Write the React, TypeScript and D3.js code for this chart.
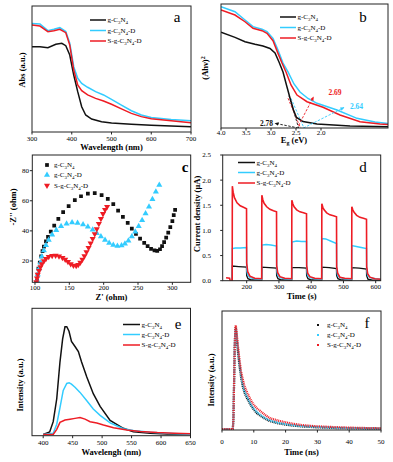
import React from 'react';
import * as d3 from 'd3';

const BLACK = '#111111';
const CYAN = '#33ccff';
const RED = '#ee1c24';
const COLORS = [BLACK, CYAN, RED];
const FONT = 'Liberation Serif, Times New Roman, serif';

// sample names, "_" marks a subscript digit
const samples = ['g-C_3N_4', 'g-C_3N_4-D', 'S-g-C_3N_4-D'];

// (a) UV-vis absorption, [nm, a.u.]
const absBlack = [[300, 0.677], [320, 0.677], [340, 0.669], [360, 0.696], [375, 0.704], [385, 0.685], [395, 0.611], [405, 0.452], [415, 0.32], [425, 0.2], [435, 0.135], [450, 0.103], [475, 0.082], [500, 0.071], [550, 0.061], [600, 0.053], [650, 0.048], [700, 0.042]];
const absCyan = [[300, 0.862], [320, 0.857], [340, 0.804], [355, 0.815], [370, 0.828], [385, 0.797], [395, 0.704], [405, 0.518], [415, 0.426], [425, 0.386], [440, 0.355], [460, 0.32], [480, 0.294], [500, 0.259], [525, 0.214], [550, 0.169], [575, 0.135], [600, 0.116], [650, 0.1], [700, 0.09]];
const absRed = [[300, 0.849], [320, 0.841], [340, 0.796], [355, 0.804], [370, 0.815], [385, 0.788], [395, 0.69], [405, 0.492], [415, 0.373], [425, 0.328], [440, 0.294], [460, 0.267], [480, 0.246], [500, 0.22], [525, 0.183], [550, 0.148], [575, 0.122], [600, 0.106], [650, 0.09], [700, 0.074]];
const absTicks = [300, 400, 500, 600, 700];

// (b) Tauc plot, [eV, a.u.]
const taucBlack = [[4.0, 0.772], [3.72, 0.731], [3.52, 0.696], [3.32, 0.675], [3.16, 0.661], [3.02, 0.641], [2.92, 0.605], [2.84, 0.532], [2.76, 0.452], [2.68, 0.331], [2.62, 0.242], [2.55, 0.145], [2.49, 0.085], [2.36, 0.052], [2.08, 0.032], [1.42, 0.016], [0.66, 0.01]];
const taucCyan = [[4.0, 0.978], [3.72, 0.938], [3.52, 0.871], [3.36, 0.817], [3.18, 0.796], [3.08, 0.777], [2.96, 0.723], [2.86, 0.629], [2.76, 0.524], [2.66, 0.452], [2.54, 0.355], [2.42, 0.29], [2.26, 0.238], [2.08, 0.199], [1.68, 0.145], [1.28, 0.078], [0.92, 0.048], [0.66, 0.036]];
const taucRed = [[4.0, 0.952], [3.72, 0.911], [3.52, 0.857], [3.36, 0.804], [3.18, 0.785], [3.08, 0.764], [2.96, 0.704], [2.86, 0.602], [2.78, 0.524], [2.7, 0.452], [2.6, 0.347], [2.48, 0.266], [2.28, 0.212], [1.96, 0.167], [1.62, 0.105], [1.22, 0.051], [0.82, 0.032], [0.66, 0.028]];
const taucTicks = [4.0, 3.5, 3.0, 2.5, 2.0];
// band gap annotations: g-C3N4, S-g-C3N4-D, g-C3N4-D
const gapLabels = ['2.78', '2.69', '2.64'];
const gapLabelPos = [[3.09, 0.02], [1.72, 0.266], [1.29, 0.153]];
const tangents = [[[2.64, 0.26], [2.44, -0.01]], [[2.66, 0.24], [2.4, -0.01]], [[2.6, 0.24], [2.33, -0.01]]];
const arrows = [[[2.45, 0.0], [2.92, 0.038]], [[2.45, 0.02], [2.15, 0.25]], [[2.35, 0.0], [1.54, 0.165]]];

// (c) Nyquist plots, [Z', -Z'']
const eisBlack = [[103, 7], [104, 11], [105, 15], [107, 19], [109, 23], [111, 26.5], [113, 29.5], [116, 33], [119, 36], [123, 39.5], [128, 43.5], [134, 48], [141, 52.5], [149, 56.5], [158, 60.5], [167, 63], [177, 64.8], [187, 65], [197, 63.8], [206, 61.3], [214, 57.8], [221, 53.5], [228, 49.3], [235, 45.3], [241, 41.5], [247, 38], [253, 34.8], [259, 32], [264, 29.8], [269, 28], [274, 27], [278, 26.8], [282, 27.8], [285, 29.8], [288, 32.5], [291, 35.5], [294, 38.8], [297, 42.5], [300, 46.5], [302, 50.5], [304, 54]];
const eisCyan = [[103, 7], [104, 11], [106, 15], [108, 19], [110, 23], [113, 27], [116, 30.5], [120, 34], [125, 37.5], [131, 40.5], [138, 43], [146, 44.8], [154, 45.5], [162, 45.3], [170, 44.3], [177, 42.8], [184, 40.8], [190, 38.5], [196, 36.2], [202, 34], [208, 32], [214, 30.6], [220, 30], [226, 30.3], [231, 31.5], [236, 33.5], [241, 36.3], [246, 39.5], [251, 43], [256, 47], [261, 51.5], [266, 56], [271, 61], [276, 66], [281, 70.5]];
const eisRed = [[102, 6], [103, 8.5], [104, 11], [106, 13.5], [108, 16], [110, 18], [113, 20], [116, 21.5], [120, 22.8], [125, 23.5], [130, 23.6], [135, 23.2], [140, 22.2], [144, 21], [148, 19.5], [152, 18], [156, 17], [160, 16.8], [163, 17.5], [166, 19], [169, 21], [172, 23.3], [175, 26], [178, 28.8], [181, 31.8], [184, 34.8], [187, 38], [190, 41.3], [193, 44.7], [196, 48], [199, 51.3], [202, 54], [205, 56]];
const eisXTicks = [100, 150, 200, 250, 300];
const eisYTicks = [20, 40, 60, 80];

// (d) transient photocurrent, [s, uA]
const ipBlack = [[155, 0.01], [155.5, 0.29], [175, 0.28], [199.5, 0.27], [200, 0.1], [204, 0.04], [212, 0.02], [246.5, 0.01], [247, 0.27], [270, 0.26], [292.5, 0.25], [293, 0.1], [297, 0.04], [305, 0.02], [339.5, 0.01], [340, 0.26], [362, 0.26], [385.5, 0.25], [386, 0.1], [390, 0.04], [398, 0.02], [432.5, 0.01], [433, 0.27], [456, 0.26], [478.5, 0.24], [479, 0.1], [483, 0.04], [491, 0.02], [525.5, 0.01], [526, 0.26], [549, 0.25], [571.5, 0.23], [572, 0.1], [576, 0.03], [590, 0.01], [616, 0.01]];
const ipCyan = [[155, 0.02], [155.5, 0.64], [165, 0.65], [180, 0.65], [199.5, 0.66], [200, 0.2], [203, 0.12], [210, 0.06], [225, 0.04], [246.5, 0.03], [247, 0.71], [260, 0.72], [275, 0.71], [292.5, 0.69], [293, 0.2], [296, 0.11], [303, 0.06], [318, 0.04], [339.5, 0.03], [340, 0.77], [355, 0.79], [370, 0.78], [385.5, 0.78], [386, 0.2], [389, 0.1], [396, 0.06], [411, 0.04], [432.5, 0.03], [433, 0.84], [445, 0.83], [460, 0.79], [478.5, 0.74], [479, 0.2], [482, 0.1], [489, 0.06], [504, 0.04], [525.5, 0.03], [526, 0.7], [540, 0.68], [555, 0.66], [571.5, 0.64], [572, 0.2], [575, 0.1], [582, 0.06], [600, 0.04], [616, 0.03]];
const ipRed = [[136, 0.06], [147, 0.05], [149, 0.0], [155, 0.0], [155.5, 1.88], [158, 1.76], [162, 1.65], [170, 1.55], [180, 1.49], [190, 1.46], [199.5, 1.43], [200, 0.35], [203, 0.18], [210, 0.09], [225, 0.05], [246.5, 0.04], [247, 1.7], [250, 1.61], [254, 1.54], [262, 1.47], [272, 1.42], [283, 1.39], [292.5, 1.37], [293, 0.3], [296, 0.16], [303, 0.08], [318, 0.05], [339.5, 0.04], [340, 1.6], [343, 1.53], [347, 1.47], [355, 1.41], [365, 1.37], [376, 1.35], [385.5, 1.33], [386, 0.3], [389, 0.15], [396, 0.08], [411, 0.05], [432.5, 0.04], [433, 1.53], [436, 1.46], [440, 1.41], [448, 1.35], [458, 1.31], [469, 1.29], [478.5, 1.27], [479, 0.28], [482, 0.15], [489, 0.07], [504, 0.05], [525.5, 0.04], [526, 1.47], [529, 1.41], [533, 1.36], [541, 1.3], [551, 1.26], [562, 1.24], [571.5, 1.22], [572, 0.28], [575, 0.14], [582, 0.07], [597, 0.04], [616, 0.03]];
const ipXTicks = [200, 300, 400, 500, 600];
const ipYTicks = [0, 0.5, 1.0, 1.5, 2.0, 2.5];

// (e) PL spectra, [nm, a.u.]
const plBlack = [[400, 0.01], [411, 0.03], [417, 0.11], [423, 0.29], [428.5, 0.58], [433, 0.76], [437, 0.855], [440, 0.855], [443.8, 0.82], [448, 0.74], [454, 0.7], [459.7, 0.66], [465, 0.58], [474, 0.46], [485, 0.33], [496.6, 0.23], [513.6, 0.12], [536, 0.058], [553, 0.031], [581.6, 0.019], [610, 0.013], [650, 0.011]];
const plCyan = [[400, 0.01], [417, 0.02], [423, 0.09], [428.5, 0.22], [434, 0.355], [440, 0.41], [444, 0.415], [448, 0.405], [454, 0.38], [462.5, 0.34], [474, 0.275], [485, 0.21], [496.6, 0.16], [513.6, 0.1], [536, 0.055], [553, 0.04], [581.6, 0.027], [610, 0.02], [650, 0.012]];
const plRed = [[400, 0.01], [417, 0.01], [423, 0.05], [428.5, 0.105], [437, 0.123], [445.5, 0.13], [454, 0.136], [462.5, 0.142], [471, 0.13], [479.6, 0.11], [491, 0.1], [502.3, 0.084], [519.4, 0.063], [542, 0.045], [565, 0.033], [593.5, 0.025], [622, 0.02], [650, 0.015]];
const plTicks = [400, 450, 500, 550, 600, 650];

// (f) TRPL decay, [ns, a.u.]
const trBlack = [[0, 0.008], [3.4, 0.008], [3.6, 0.1], [3.8, 0.4], [4.0, 0.7], [4.2, 0.85], [4.35, 0.86], [4.6, 0.78], [5, 0.66], [5.5, 0.54], [6, 0.44], [6.5, 0.37], [7, 0.32], [7.5, 0.285], [8, 0.26], [9, 0.21], [10, 0.17], [11, 0.14], [12, 0.12], [13.5, 0.095], [15, 0.075], [17.5, 0.057], [20, 0.045], [22.5, 0.036], [25, 0.03], [30, 0.022], [35, 0.017], [40, 0.014], [45, 0.012], [50, 0.011]];
const trCyan = [[0, 0.008], [3.4, 0.008], [3.6, 0.1], [3.8, 0.4], [4.0, 0.7], [4.2, 0.84], [4.35, 0.85], [4.6, 0.79], [5, 0.68], [5.5, 0.56], [6, 0.46], [6.5, 0.39], [7, 0.335], [7.5, 0.3], [8, 0.275], [9, 0.22], [10, 0.18], [11, 0.15], [12, 0.128], [13.5, 0.1], [15, 0.082], [17.5, 0.062], [20, 0.05], [22.5, 0.04], [25, 0.033], [30, 0.026], [35, 0.02], [40, 0.016], [45, 0.014], [50, 0.012]];
const trRed = [[0, 0.008], [3.4, 0.008], [3.6, 0.1], [3.8, 0.4], [4.0, 0.7], [4.2, 0.86], [4.35, 0.88], [4.6, 0.82], [5, 0.71], [5.5, 0.59], [6, 0.49], [6.5, 0.43], [7, 0.378], [7.5, 0.34], [8, 0.31], [9, 0.255], [10, 0.21], [11, 0.182], [12, 0.16], [13.5, 0.128], [15, 0.1], [17.5, 0.08], [20, 0.065], [22.5, 0.052], [25, 0.042], [27.5, 0.036], [30, 0.031], [35, 0.025], [40, 0.02], [45, 0.017], [50, 0.014]];
const trTicks = [0, 10, 20, 30, 40, 50];

const GAP_COLORS = [BLACK, RED, CYAN];

// text with "_3" style subscripts
function chem(s, fs) {
  const out = [];
  let sub = false;
  let buf = '';
  const flush = (i) => {
    if (buf) {
      out.push(<tspan key={'t' + i} dy={sub ? -fs * 0.25 : 0}>{buf}</tspan>);
      sub = false;
    }
    buf = '';
  };
  for (let i = 0; i < s.length; i++) {
    if (s[i] === '_') {
      flush(i);
      out.push(<tspan key={'s' + i} fontSize={fs * 0.7} dy={sub ? 0 : fs * 0.25}>{s[i + 1]}</tspan>);
      sub = true;
      i++;
    } else buf += s[i];
  }
  flush(s.length);
  return out;
}

function Panel({ box, x, y, xTicks, xFmt, yTicks, yFmt, tickY, xTitle, xTitleX, xTitleY, yTitle, yTitleX, yTitleY, yTickEnd, letter, letterXY, letterBold, id, children }) {
  const [l, t, r, b] = box;
  return (
    <g>
      <clipPath id={id}>
        <rect x={l} y={t} width={r - l} height={b - t} />
      </clipPath>
      <g clipPath={`url(#${id})`}>{children}</g>
      <rect x={l} y={t} width={r - l} height={b - t} fill="none" stroke="#222" strokeWidth={1} />
      {xTicks.map(v => (
        <g key={'x' + v}>
          <line x1={x(v)} x2={x(v)} y1={b} y2={b + 2.5} stroke="#222" />
          <text x={x(v)} y={tickY} textAnchor="middle" fontSize={7}>{xFmt(v)}</text>
        </g>
      ))}
      {(yTicks || []).map(v => (
        <g key={'y' + v}>
          <line x1={l - 2.5} x2={l} y1={y(v)} y2={y(v)} stroke="#222" />
          <text x={yTickEnd} y={y(v) + 2.4} textAnchor="end" fontSize={7}>{yFmt(v)}</text>
        </g>
      ))}
      <text x={xTitleX ?? (l + r) / 2} y={xTitleY} textAnchor="middle" fontSize={8.5} fontWeight="bold">{xTitle}</text>
      <text transform={`translate(${yTitleX},${yTitleY}) rotate(-90)`} textAnchor="middle" fontSize={8.5} fontWeight="bold">{yTitle}</text>
      <text x={letterXY[0]} y={letterXY[1]} textAnchor="middle" fontSize={15} fontWeight={letterBold ? 'bold' : 'normal'}>{letter}</text>
    </g>
  );
}

function LineLegend({ x0, x1, ys }) {
  return (
    <g>
      {samples.map((s, i) => (
        <g key={s}>
          <line x1={x0} x2={x1} y1={ys[i]} y2={ys[i]} stroke={COLORS[i]} strokeWidth={1.5} />
          <text x={x1 + 1.5} y={ys[i] + 2.3} fontSize={7}>{chem(s, 7)}</text>
        </g>
      ))}
    </g>
  );
}

function curve(data, x, y) {
  return d3.line().x(d => x(d[0])).y(d => y(d[1]))(data);
}

export default function App() {
  // (a)
  const ax = d3.scaleLinear().domain([300, 700]).range([32, 191]);
  const ay = d3.scaleLinear().domain([0, 1]).range([132, 6]);
  // (b)
  const bx = d3.scaleLinear().domain([4.0, 0.66]).range([221, 388]);
  const by = d3.scaleLinear().domain([0, 1]).range([128, 4]);
  // (c)
  const cx = d3.scaleLinear().domain([96.1, 326.7]).range([32.3, 190.7]);
  const cy = d3.scaleLinear().domain([5.85, 90.4]).range([282.3, 155]);
  // (d)
  const dx = d3.scaleLinear().domain([125.6, 615.5]).range([222.7, 380.7]);
  const dy = d3.scaleLinear().domain([0, 2.5]).range([280.7, 155]);
  // (e)
  const ex = d3.scaleLinear().domain([381, 650]).range([32, 190.5]);
  const ey = d3.scaleLinear().domain([0, 1]).range([435.7, 308.3]);
  // (f)
  const fx = d3.scaleLinear().domain([0, 50]).range([222, 381]);
  const fy = d3.scaleLinear().domain([0, 1]).range([430, 311]);

  const absSeries = [absBlack, absCyan, absRed];
  const taucSeries = [taucBlack, taucCyan, taucRed];
  const ipSeries = [ipBlack, ipCyan, ipRed];
  const plSeries = [plBlack, plCyan, plRed];
  const trSeries = [trBlack, trCyan, trRed];

  const sq = d3.symbol().type(d3.symbolSquare).size(14)();
  const triUp = d3.symbol().type(d3.symbolTriangle).size(16)();

  return (
    <svg width={393} height={462} style={{ position: 'absolute', left: 0, top: 0, background: '#fff', fontFamily: FONT }}>
      <defs>
        {GAP_COLORS.map((c, i) => (
          <marker key={c} id={'arr' + i} viewBox="0 0 10 10" refX={8} refY={5} markerWidth={5} markerHeight={5} orient="auto">
            <path d="M0,1 L9,5 L0,9 z" fill={c} />
          </marker>
        ))}
      </defs>
      <rect x={0} y={0} width={393} height={462} fill="#fff" />

      {/* (a) */}
      <Panel id="pa" box={[32, 6, 191, 132]} x={ax} y={ay} xTicks={absTicks} xFmt={d3.format('d')} tickY={140.5}
        xTitle="Wavelength (nm)" xTitleY={150} yTitle="Abs (a.u.)" yTitleX={24.5} yTitleY={70}
        letter="a" letterXY={[177, 22]}>
        {absSeries.map((s, i) => <path key={i} d={curve(s, ax, ay)} fill="none" stroke={COLORS[i]} strokeWidth={1.5} />)}
      </Panel>
      <LineLegend x0={90} x1={106} ys={[20, 30.5, 41]} />

      {/* (b) */}
      <Panel id="pb" box={[221, 4, 388, 128]} x={bx} y={by} xTicks={taucTicks} xFmt={d3.format('.1f')} tickY={134.5}
        xTitle={<>E<tspan fontSize={6} dy={2}>g</tspan><tspan dy={-2}> (eV)</tspan></>} xTitleX={294} xTitleY={143}
        yTitle={<>(Ahν)<tspan fontSize={6} dy={-3}>2</tspan></>} yTitleX={208} yTitleY={68}
        letter="b" letterXY={[363, 22]}>
        {tangents.map((t, i) => (
          <path key={'t' + i} d={curve(t, bx, by)} fill="none" stroke={GAP_COLORS[i]} strokeWidth={0.9} strokeDasharray="2.5 1.5" />
        ))}
        {taucSeries.map((s, i) => <path key={i} d={curve(s, bx, by)} fill="none" stroke={COLORS[i]} strokeWidth={1.5} />)}
        {arrows.map((a, i) => (
          <path key={'a' + i} d={curve(a, bx, by)} fill="none" stroke={GAP_COLORS[i]} strokeWidth={0.9} strokeDasharray="2.5 1.5" markerEnd={`url(#arr${i})`} />
        ))}
        {gapLabels.map((g, i) => (
          <text key={g} x={bx(gapLabelPos[i][0])} y={by(gapLabelPos[i][1])} textAnchor="middle" fontSize={7.5} fontWeight="bold" fill={GAP_COLORS[i]}>{g}</text>
        ))}
      </Panel>
      <LineLegend x0={280} x1={296} ys={[17, 27.5, 38]} />

      {/* (c) */}
      <Panel id="pc" box={[32.3, 155, 190.7, 282.3]} x={cx} y={cy} xTicks={eisXTicks} xFmt={d3.format('d')} tickY={290}
        yTicks={eisYTicks} yFmt={d3.format('d')} yTickEnd={29}
        xTitle="Z' (ohm)" xTitleY={299.5} yTitle="-Z'' (ohm)" yTitleX={15.5} yTitleY={207}
        letter="c" letterBold letterXY={[185, 172]}>
        {eisBlack.map((d, j) => <path key={'k' + j} d={sq} transform={`translate(${cx(d[0])},${cy(d[1])})`} fill={BLACK} />)}
        {eisCyan.map((d, j) => <path key={'c' + j} d={triUp} transform={`translate(${cx(d[0])},${cy(d[1])})`} fill={CYAN} />)}
        {eisRed.map((d, j) => <path key={'r' + j} d={triUp} transform={`translate(${cx(d[0])},${cy(d[1])}) rotate(180)`} fill={RED} />)}
      </Panel>
      <g>
        <path d={sq} transform="translate(47,165)" fill={BLACK} />
        <path d={triUp} transform="translate(47,175)" fill={CYAN} />
        <path d={triUp} transform="translate(47,185.5) rotate(180)" fill={RED} />
        {samples.map((s, i) => (
          <text key={s} x={54} y={[165, 175, 185.5][i] + 2.3} fontSize={7}>{chem(s, 7)}</text>
        ))}
      </g>

      {/* (d) */}
      <Panel id="pd" box={[222.7, 155, 380.7, 280.7]} x={dx} y={dy} xTicks={ipXTicks} xFmt={d3.format('d')} tickY={288.5}
        yTicks={ipYTicks} yFmt={d3.format('.1f')} yTickEnd={211}
        xTitle="Time (s)" xTitleY={298.5} yTitle="Current density (μA)" yTitleX={200} yTitleY={214}
        letter="d" letterXY={[363, 172]}>
        {ipSeries.map((s, i) => <path key={i} d={curve(s, dx, dy)} fill="none" stroke={COLORS[i]} strokeWidth={i === 2 ? 1.6 : 1.4} />)}
      </Panel>
      <LineLegend x0={238} x1={255} ys={[162.5, 172.5, 183]} />

      {/* (e) */}
      <Panel id="pe" box={[32, 308.3, 190.5, 435.7]} x={ex} y={ey} xTicks={plTicks} xFmt={d3.format('d')} tickY={444.5}
        xTitle="Wavelengh (nm)" xTitleY={454.5} yTitle="Intensity (a.u.)" yTitleX={22.5} yTitleY={385}
        letter="e" letterXY={[178, 329]}>
        {plSeries.map((s, i) => <path key={i} d={curve(s, ex, ey)} fill="none" stroke={COLORS[i]} strokeWidth={1.5} />)}
      </Panel>
      <LineLegend x0={123} x1={140} ys={[324.5, 334.5, 345]} />

      {/* (f) */}
      <Panel id="pf" box={[222, 311, 381, 430]} x={fx} y={fy} xTicks={trTicks} xFmt={d3.format('d')} tickY={444}
        xTitle="Time (ns)" xTitleY={454.5} yTitle="Intensity (a.u.)" yTitleX={214} yTitleY={380}
        letter="f" letterXY={[367, 328]}>
        {trSeries.map((s, i) => (
          <path key={i} d={curve(s, fx, fy)} fill="none" stroke={COLORS[i]} strokeWidth={2.2} strokeDasharray="1 0.8" />
        ))}
      </Panel>
      <g>
        {samples.map((s, i) => (
          <g key={s}>
            <rect x={317} y={[325, 335, 345][i] - 1} width={2} height={2} fill={COLORS[i]} />
            <text x={327} y={[325, 335, 345][i] + 2.3} fontSize={7}>{chem(s, 7)}</text>
          </g>
        ))}
      </g>
    </svg>
  );
}
